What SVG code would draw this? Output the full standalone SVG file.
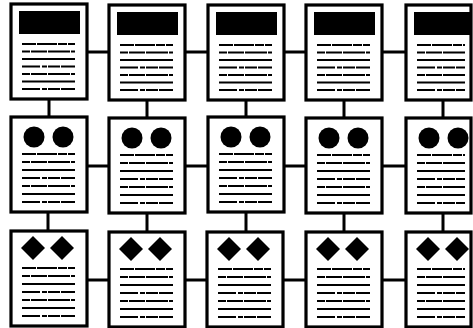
<svg xmlns="http://www.w3.org/2000/svg" width="473" height="328" viewBox="0 0 473 328">
<style>
.card{fill:#fff;stroke:#000;stroke-width:3.2}
.tl{stroke:#000;stroke-width:2.2;fill:none}
.ta{stroke-dasharray:14 1 20 1 9 1}
.tb{stroke-dasharray:8 1 16 1 22 1}
.tc{stroke-dasharray:18 2 5 1 12 1}
.con{stroke:#000;stroke-width:3;fill:none}
</style>
<defs>
<g id="lines1">
<line class="tl ta" x1="11" y1="40" x2="64" y2="40"/>
<line class="tl tb" x1="11" y1="47.5" x2="64" y2="47.5"/>
<line class="tl" x1="11" y1="55" x2="64" y2="55"/>
<line class="tl tc" x1="11" y1="62.5" x2="64" y2="62.5"/>
<line class="tl tb" x1="11" y1="70" x2="64" y2="70"/>
<line class="tl" x1="11" y1="77.5" x2="64" y2="77.5"/>
<line class="tl tc" x1="11" y1="85" x2="64" y2="85"/>
</g>
<g id="lines2">
<line class="tl ta" x1="11" y1="37" x2="64" y2="37"/>
<line class="tl tb" x1="11" y1="45" x2="64" y2="45"/>
<line class="tl" x1="11" y1="53" x2="64" y2="53"/>
<line class="tl tc" x1="11" y1="61" x2="64" y2="61"/>
<line class="tl tb" x1="11" y1="69" x2="64" y2="69"/>
<line class="tl" x1="11" y1="77" x2="64" y2="77"/>
<line class="tl tc" x1="11" y1="85" x2="64" y2="85"/>
</g>
<clipPath id="clipL"><rect x="0" y="0" width="59" height="95"/></clipPath>
<g id="c1">
<rect class="card" x="0" y="0" width="76" height="95"/>
<rect x="8" y="7" width="61" height="23" fill="#000"/>
<use href="#lines1"/>
</g>
<g id="c2">
<rect class="card" x="0" y="0" width="76" height="95"/>
<circle cx="23" cy="20" r="10.5" fill="#000"/>
<circle cx="52" cy="20" r="10.5" fill="#000"/>
<use href="#lines2"/>
</g>
<g id="c3">
<rect class="card" x="0" y="0" width="76" height="95"/>
<polygon points="22,5 34,17 22,29 10,17" fill="#000"/>
<polygon points="51,5 63,17 51,29 39,17" fill="#000"/>
<use href="#lines2"/>
</g>
<g id="n1">
<rect class="card" x="0" y="0" width="65" height="95"/>
<rect x="8" y="7" width="57" height="23" fill="#000"/>
<use href="#lines1" clip-path="url(#clipL)"/>
</g>
<g id="n2">
<rect class="card" x="0" y="0" width="65" height="95"/>
<circle cx="23" cy="20" r="10.5" fill="#000"/>
<circle cx="52" cy="20" r="10.5" fill="#000"/>
<use href="#lines2" clip-path="url(#clipL)"/>
</g>
<g id="n3">
<rect class="card" x="0" y="0" width="65" height="95"/>
<polygon points="22,5 34,17 22,29 10,17" fill="#000"/>
<polygon points="51,5 63,17 51,29 39,17" fill="#000"/>
<use href="#lines2" clip-path="url(#clipL)"/>
</g>
</defs>
<g id="connectors">
<path class="con" d="M87 52H110M185 52H208M283 52H307M382 52H406"/>
<path class="con" d="M86 166H110M185 166H208M283 166H307M382 166H406"/>
<path class="con" d="M86 280H110M185 280H208M283 280H307M382 280H406"/>
<path class="con" d="M49 99V118M147 99V118M246 99V118M344 99V118M443 99V118"/>
<path class="con" d="M48 212V232M147 212V232M246 212V232M344 212V232M443 212V232"/>
</g>
<g id="r1c1" transform="translate(11,4)"><use href="#c1"/></g>
<g id="r1c2" transform="translate(109,5)"><use href="#c1"/></g>
<g id="r1c3" transform="translate(208,5)"><use href="#c1"/></g>
<g id="r1c4" transform="translate(306,5)"><use href="#c1"/></g>
<g id="r1c5" transform="translate(406,5)"><use href="#n1"/></g>
<g id="r2c1" transform="translate(11,117)"><use href="#c2"/></g>
<g id="r2c2" transform="translate(109,118)"><use href="#c2"/></g>
<g id="r2c3" transform="translate(208,117)"><use href="#c2"/></g>
<g id="r2c4" transform="translate(306,118)"><use href="#c2"/></g>
<g id="r2c5" transform="translate(406,118)"><use href="#n2"/></g>
<g id="r3c1" transform="translate(11,231)"><use href="#c3"/></g>
<g id="r3c2" transform="translate(109,232)"><use href="#c3"/></g>
<g id="r3c3" transform="translate(207,232)"><use href="#c3"/></g>
<g id="r3c4" transform="translate(306,232)"><use href="#c3"/></g>
<g id="r3c5" transform="translate(406,232)"><use href="#n3"/></g>
</svg>
